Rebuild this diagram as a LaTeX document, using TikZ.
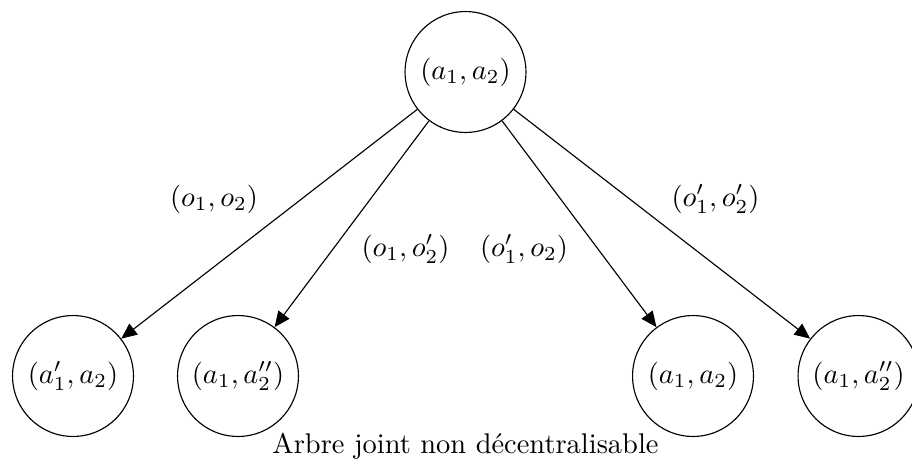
\documentclass[tikz,border=0pt]{standalone}
\usetikzlibrary{arrows.meta}
\begin{document}
\begin{tikzpicture}[x=0.3515pt,y=-0.3515pt,
  state/.style={draw,circle,minimum size=42.5pt,inner sep=0pt,line width=0.4pt},
  edgelabel/.style={inner sep=0pt},
  arr/.style={-{Triangle[length=5.5pt,width=4.8pt]},line width=0.4pt}]
\useasboundingbox (0,0) rectangle (912,465);
\node[state] (r) at (465.5,72) {$(a_1,a_2)$};
\node[state] (c1) at (73,376) {$(a'_1,a_2)$};
\node[state] (c2) at (238,376) {$(a_1,a''_2)$};
\node[state] (c3) at (693,376) {$(a_1,a_2)$};
\node[state] (c4) at (858.5,376) {$(a_1,a''_2)$};
\draw[arr] (r) -- (c1);
\draw[arr] (r) -- (c2);
\draw[arr] (r) -- (c3);
\draw[arr] (r) -- (c4);
\node[edgelabel] (l1) at (214,199) {$(o_1,o_2)$};
\node[edgelabel] (l2) at (405.5,249) {$(o_1,o'_2)$};
\node[edgelabel] (l3) at (524,249) {$(o'_1,o_2)$};
\node[edgelabel] (l4) at (715.5,199) {$(o'_1,o'_2)$};
\node[inner sep=0pt,anchor=base] (cap) at (465.5,453) {Arbre joint non décentralisable};
\end{tikzpicture}
\end{document}
